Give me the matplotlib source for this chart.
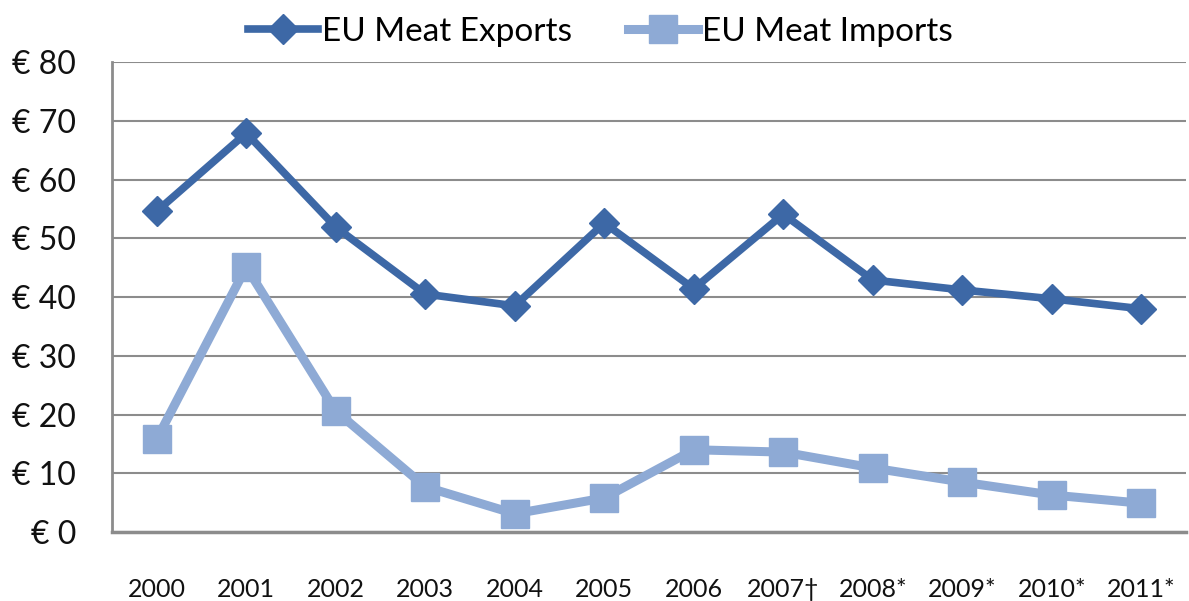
import matplotlib
matplotlib.use("Agg")
from matplotlib import pyplot as plt

years = ["2000", "2001", "2002", "2003", "2004", "2005", "2006",
         "2007†", "2008*", "2009*", "2010*", "2011*"]
exports = [54.6, 67.9, 51.9, 40.5, 38.5, 52.6, 41.4, 54.1, 42.9, 41.2, 39.7, 38.0]
imports = [15.8, 45.1, 20.6, 7.7, 3.1, 5.8, 14.0, 13.6, 10.9, 8.5, 6.3, 4.9]
yticks = [0, 10, 20, 30, 40, 50, 60, 70, 80]

plt.rcParams["font.family"] = ["Lato", "DejaVu Sans"]

fig = plt.figure(figsize=(11.89, 6.01), dpi=100)
ax = fig.add_axes([0.0942, 0.1148, 0.9033, 0.782])

x = list(range(len(years)))
ax.plot(x, exports, color="#3D68A6", lw=5.5, marker="D", ms=15,
        label="EU Meat Exports", zorder=4)
ax.plot(x, imports, color="#8EAAD5", lw=6.5, marker="s", ms=20,
        label="EU Meat Imports", zorder=3)

ax.set_xlim(-0.5, len(years) - 0.5)
ax.set_ylim(0, 80)
ax.set_yticks(yticks)
ax.set_yticklabels(["€ {}".format(v) for v in yticks], fontsize=23)
ax.set_xticks(x)
ax.set_xticklabels(years, fontsize=18)
ax.tick_params(axis="both", length=0, colors="#111111")
ax.tick_params(axis="y", pad=26)
ax.tick_params(axis="x", pad=33)

ax.grid(axis="y", color="#8C8C8C", lw=1.5)
ax.set_axisbelow(True)
for s in ["top", "right"]:
    ax.spines[s].set_visible(False)
ax.spines["left"].set_color("#8C8C8C")
ax.spines["left"].set_linewidth(2)
ax.spines["bottom"].set_color("#8C8C8C")
ax.spines["bottom"].set_linewidth(2.5)

fig.legend(loc="upper center", bbox_to_anchor=(0.505, 1.022), ncol=2,
           frameon=False, fontsize=24, handlelength=2.1, handletextpad=0.1,
           columnspacing=1.7)

fig.savefig("out.png", dpi=100)
